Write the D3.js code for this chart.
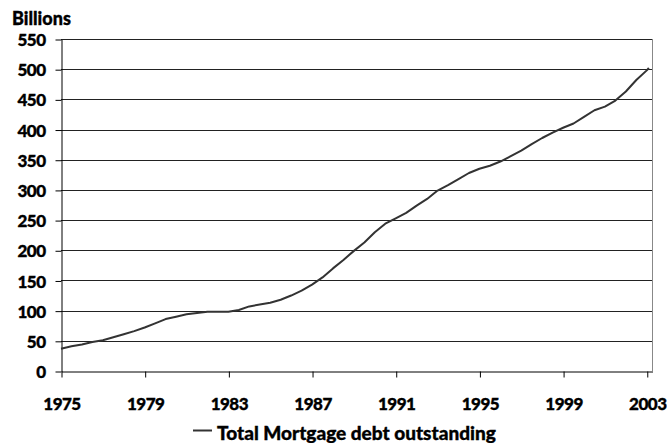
<!DOCTYPE html>
<meta charset="utf-8" />
<script src="https://cdn.jsdelivr.net/npm/d3@7"></script>
<html>
<head>
<style>
  body { margin: 0; background: #fff; }
  text { font-family: Lato, "DejaVu Sans", sans-serif; font-weight: 900; fill: #000;
         stroke: #000; stroke-width: 0.35px; }
</style>
</head>
<body>
<script>
// half-yearly readings of total mortgage debt outstanding (billions)
const years = [1975, 1975.5, 1976, 1976.5, 1977, 1977.5, 1978, 1978.5, 1979, 1979.5,
    1980, 1980.5, 1981, 1981.5, 1982, 1982.5, 1983, 1983.5, 1984, 1984.5,
    1985, 1985.5, 1986, 1986.5, 1987, 1987.5, 1988, 1988.5, 1989, 1989.5,
    1990, 1990.5, 1991, 1991.5, 1992, 1992.5, 1993, 1993.5, 1994, 1994.5,
    1995, 1995.5, 1996, 1996.5, 1997, 1997.5, 1998, 1998.5, 1999, 1999.5,
    2000, 2000.5, 2001, 2001.5, 2002, 2002.5, 2003, 2003.1];
const debt = [37, 41, 44, 48, 51, 56, 61, 66, 72, 79,
    86, 90, 94, 96, 98, 98, 98, 101, 107, 110,
    113, 118, 125, 133, 143, 155, 170, 184, 199, 213,
    230, 244, 253, 262, 274, 285, 299, 308, 318, 328,
    335, 340, 347, 356, 365, 376, 386, 395, 403, 410,
    421, 432, 438, 448, 463, 482, 498, 502];
const xTicks = [1975, 1979, 1983, 1987, 1991, 1995, 1999, 2003];
const yTicks = d3.range(0, 551, 50);
const seriesName = "Total Mortgage debt outstanding";

const width = 667, height = 443;
const plotLeft = 61, plotRight = 652, plotTop = 39, plotBottom = 371;

const svg = d3.select("body").append("svg")
    .attr("width", width).attr("height", height);

const x = d3.scaleLinear().domain([1975, 2003.25]).range([plotLeft, plotRight]);
const y = d3.scaleLinear().domain([0, 550]).range([plotBottom, plotTop]);

// gridlines
svg.append("g").selectAll("line").data(yTicks.filter(d => d > 0)).enter()
    .append("line")
    .attr("x1", plotLeft).attr("x2", plotRight)
    .attr("y1", d => Math.round(y(d)) + 0.5).attr("y2", d => Math.round(y(d)) + 0.5)
    .attr("stroke", "#222").attr("stroke-width", 1);

// right border
svg.append("line")
    .attr("x1", plotRight + 0.5).attr("x2", plotRight + 0.5)
    .attr("y1", plotTop).attr("y2", plotBottom)
    .attr("stroke", "#888");

// y axis
const yAxis = svg.append("g")
    .attr("transform", `translate(${plotLeft + 0.5},0.5)`)
    .call(d3.axisLeft(y).tickValues(yTicks).tickSize(6).tickPadding(10).tickSizeOuter(0));
yAxis.select(".domain").attr("stroke", "#000");
yAxis.selectAll("text")
    .style("font-size", "17px").style("letter-spacing", "-0.5px")
    .attr("dy", "0.36em");

// x axis
const xAxis = svg.append("g")
    .attr("transform", `translate(0.5,${plotBottom + 0.5})`)
    .call(d3.axisBottom(x).tickValues(xTicks).tickFormat(d3.format("d"))
        .tickSize(6).tickSizeOuter(0));
xAxis.select(".domain").attr("stroke", "#000");
xAxis.selectAll("text")
    .style("font-size", "17px").style("letter-spacing", "-0.5px")
    .attr("dy", null).attr("y", 38.5);

// series line
const data = years.map((yr, i) => ({ yr: yr, v: debt[i] }));
svg.append("path")
    .datum(data)
    .attr("fill", "none")
    .attr("stroke", "#333")
    .attr("stroke-width", 2)
    .attr("stroke-linejoin", "round")
    .attr("d", d3.line().x(d => x(d.yr)).y(d => y(d.v)));

// unit label
svg.append("text")
    .attr("x", 12).attr("y", 25)
    .style("font-size", "18px")
    .text("Billions");

// legend
svg.append("line")
    .attr("x1", 193).attr("x2", 212)
    .attr("y1", 430.5).attr("y2", 430.5)
    .attr("stroke", "#333").attr("stroke-width", 2);
svg.append("text")
    .attr("x", 217).attr("y", 440)
    .style("font-size", "19px")
    .text(seriesName);
</script>
</body>
</html>
